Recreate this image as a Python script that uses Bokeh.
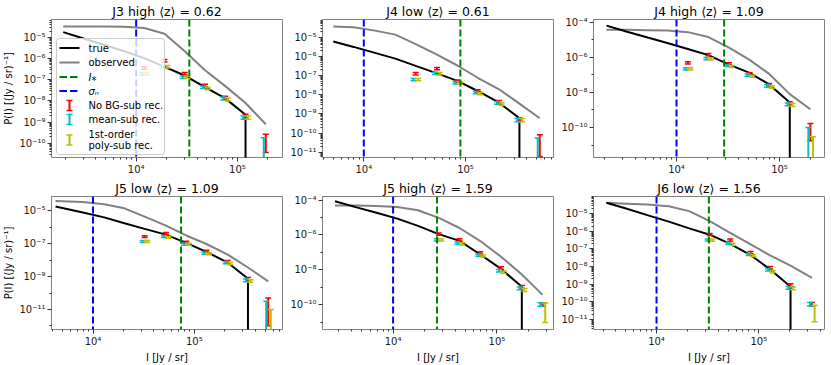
import math
from bokeh.plotting import figure
from bokeh.layouts import row, column
from bokeh.models import FixedTicker, CustomJSTickFormatter, Label, BoxAnnotation, Span
from bokeh.embed import file_html
from bokeh.resources import INLINE

# ---------------- data (log10 values) ----------------
titles = ["J3 high ⟨z⟩ = 0.62", "J4 low ⟨z⟩ = 0.61", "J4 high ⟨z⟩ = 1.09",
          "J5 low ⟨z⟩ = 1.09", "J5 high ⟨z⟩ = 1.59", "J6 low ⟨z⟩ = 1.56"]
i_star = [3.35e4, 8.9e4, 2.9e4, 7.4e4, 2.65e4, 3.25e4]   # I_* [Jy/sr]
sigma_n = 1.0e4                                          # sigma_n [Jy/sr]

# log10 of intensity bin centres
log_I_bins = [
    [3.28, 3.48, 3.68, 3.88, 4.08, 4.28, 4.48, 4.68, 4.88, 5.08, 5.28],
    [3.70, 3.90, 4.11, 4.31, 4.51, 4.72, 4.92, 5.12, 5.33, 5.53, 5.73],
    [3.32, 3.52, 3.72, 3.91, 4.11, 4.31, 4.51, 4.71, 4.90, 5.10, 5.30],
    [3.63, 3.90, 4.11, 4.31, 4.51, 4.72, 4.92, 5.12, 5.33, 5.53, 5.73],
    [3.44, 3.64, 3.84, 4.04, 4.24, 4.44, 4.64, 4.84, 5.04, 5.24, 5.44],
    [3.51, 3.71, 3.91, 4.12, 4.32, 4.52, 4.72, 4.92, 5.11, 5.31, 5.52],
]
# log10 P(I), true (drops to zero after the last value)
log_P_true = [
    [-4.75, -5.05, -5.35, -5.65, -5.98, -6.39, -6.80, -7.35, -7.88, -8.65],
    [-5.22, -5.50, -5.81, -6.11, -6.49, -6.88, -7.27, -7.80, -8.41, -9.22],
    [-4.20, -4.55, -4.88, -5.19, -5.53, -5.88, -6.42, -6.89, -7.55, -8.58],
    [-4.74, -5.10, -5.40, -5.76, -6.10, -6.45, -6.95, -7.50, -8.15, -9.13],
    [-4.06, -4.40, -4.72, -5.06, -5.48, -5.95, -6.34, -7.12, -7.95, -8.98],
    [-4.38, -4.72, -5.08, -5.45, -5.83, -6.19, -6.71, -7.35, -8.16, -9.15],
]
# log10 P(I), observed
log_P_obs = [
    [-4.48, -4.48, -4.49, -4.50, -4.56, -4.83, -5.65, -6.55, -7.30, -8.10, -9.10],
    [-4.43, -4.48, -4.65, -4.86, -5.35, -5.90, -6.47, -7.11, -7.71, -8.46, -9.22],
    [-4.43, -4.44, -4.46, -4.48, -4.57, -4.85, -5.45, -6.15, -6.95, -8.10, -8.96],
    [-4.41, -4.47, -4.60, -4.85, -5.35, -5.90, -6.50, -7.02, -7.66, -8.45, -9.29],
    [-4.30, -4.31, -4.34, -4.39, -4.58, -5.02, -5.60, -6.35, -7.25, -8.27, -9.44],
    [-4.38, -4.43, -4.48, -4.57, -4.85, -5.42, -6.09, -6.74, -7.37, -7.95, -8.65],
]
NaN = float("nan")
# reconstructions (on the last bins): log10 centre and half-width in dex
red_log_P = [
    [-6.44, -6.10, -6.72, -7.27, -7.85, -8.71, -10.00],
    [-6.90, -6.63, -7.28, -7.80, -8.37, -9.27, -10.65],
    [-6.32, -5.85, -6.38, -6.94, -7.57, -8.62, -10.26],
    [-6.57, -6.38, -6.91, -7.46, -8.09, -9.13, -11.15],
    [-5.95, -6.28, -7.03, -7.90, -8.98, -10.00],
    [-6.18, -6.50, -7.21, -8.07, -9.06, -10.14],
]
red_dex = [
    [0.06, 0.06, 0.06, 0.06, 0.07, 0.08, 0.43],
    [0.06, 0.06, 0.06, 0.06, 0.07, 0.08, 0.57],
    [0.06, 0.06, 0.06, 0.06, 0.07, 0.08, 0.49],
    [0.06, 0.06, 0.06, 0.06, 0.07, 0.08, 0.84],
    [0.06, 0.06, 0.06, 0.07, 0.08, 0.10],
    [0.06, 0.06, 0.06, 0.07, 0.08, 0.10],
]
cyan_log_P = [
    [-6.72, -6.39, -6.88, -7.35, -7.88, -8.79, -10.40],
    [-7.21, -6.88, -7.37, -7.89, -8.42, -9.32, -10.85],
    [-6.66, -6.08, -6.47, -7.02, -7.64, -8.68, -11.00],
    [-6.87, -6.57, -7.03, -7.58, -8.15, -9.23, -11.50],
    [-6.28, -6.47, -7.16, -8.05, -9.07, -10.00],
    [-6.49, -6.68, -7.32, -8.18, -9.21, -10.14],
]
cyan_dex = [
    [0.06, 0.06, 0.06, 0.06, 0.07, 0.08, 0.66],
    [0.06, 0.06, 0.06, 0.06, 0.07, 0.08, 0.60],
    [0.06, 0.06, 0.06, 0.06, 0.07, 0.08, 1.00],
    [0.06, 0.06, 0.06, 0.06, 0.07, 0.08, 1.00],
    [0.06, 0.06, 0.06, 0.07, 0.08, 0.10],
    [0.06, 0.06, 0.06, 0.07, 0.08, 0.10],
]
yel_log_P = [
    [-6.72, -6.39, -6.88, -7.41, -7.93, -8.79, NaN],
    [-7.21, -6.90, -7.39, -7.94, -8.49, -9.32, NaN],
    [-6.66, -6.09, -6.53, -7.08, -7.70, -8.72, -11.30],
    [-6.87, -6.61, -7.03, -7.62, -8.21, -9.27, -11.80],
    [-6.28, -6.51, -7.21, -8.14, -9.16, -10.47],
    [-6.50, -6.74, -7.39, -8.29, -9.24, -10.67],
]
yel_dex = [
    [0.06, 0.06, 0.06, 0.06, 0.07, 0.08, NaN],
    [0.06, 0.06, 0.06, 0.06, 0.07, 0.08, NaN],
    [0.06, 0.06, 0.06, 0.06, 0.07, 0.08, 0.77],
    [0.06, 0.06, 0.06, 0.06, 0.07, 0.08, 0.80],
    [0.06, 0.06, 0.06, 0.07, 0.08, 0.56],
    [0.06, 0.06, 0.06, 0.07, 0.08, 0.47],
]

# axis limits (log10) and labelled decades
x_lims = [(3.164, 5.445), (3.594, 5.865), (3.194, 5.437), (3.59, 5.871), (3.32, 5.545), (3.384, 5.642)]
y_lims = [(-10.67, -4.155), (-11.27, -4.07), (-11.71, -3.85), (-12.22, -4.13), (-11.43, -3.79), (-11.58, -4.02)]
y_major = [[-5, -6, -7, -8, -9, -10], [-5, -6, -7, -8, -9, -10, -11], [-4, -6, -8, -10],
           [-5, -7, -9, -11], [-4, -6, -8, -10], [-5, -6, -7, -8, -9, -10, -11]]
y_stride = [1, 1, 2, 2, 2, 1]

# ---------------- styling / layout ----------------
FONT = "DejaVu Sans"
C_RED, C_CYAN, C_YEL = "#ff0000", "#00bfbf", "#bfbf00"
OFF_CYAN, OFF_YEL = 0.955, 1.06
frame_w = [232, 231, 231]
b_left = [50, 35, 35]
b_right = [5, 5, 6]
frame_h = [139, 137]
b_top = [18, 19]
b_bottom = [20, 32]

sup_code = """
const sup = {"-": "\u207b", "0": "\u2070", "1": "\u00b9", "2": "\u00b2", "3": "\u00b3",
             "4": "\u2074", "5": "\u2075", "6": "\u2076", "7": "\u2077", "8": "\u2078", "9": "\u2079"};
const e = Math.round(Math.log10(tick));
let s = "";
for (const c of String(e)) { s += sup[c]; }
return "10" + s;
"""


def make_panel(i):
    c, r = i % 3, i // 3
    fw, fh = frame_w[c], frame_h[r]
    p = figure(width=b_left[c] + fw + b_right[c], height=b_top[r] + fh + b_bottom[r],
               x_axis_type="log", y_axis_type="log",
               x_range=(10 ** x_lims[i][0], 10 ** x_lims[i][1]),
               y_range=(10 ** y_lims[i][0], 10 ** y_lims[i][1]),
               output_backend="svg", toolbar_location=None,
               min_border_left=b_left[c], min_border_right=b_right[c],
               min_border_top=b_top[r], min_border_bottom=b_bottom[r])
    p.xgrid.visible = False
    p.ygrid.visible = False
    p.outline_line_color = "#808080"
    p.outline_line_width = 1
    p.background_fill_color = "white"
    p.border_fill_color = "white"

    p.title.text = titles[i]
    p.title.align = "center"
    p.title.text_font = FONT
    p.title.text_font_size = "12.5px"
    p.title.text_font_style = "normal"
    p.title.text_color = "black"
    p.title.standoff = 2

    xmin = [m * 10 ** k for k in range(2, 7) for m in range(2, 10)]
    p.xaxis.ticker = FixedTicker(ticks=[1e2, 1e3, 1e4, 1e5, 1e6], minor_ticks=xmin)
    majors = [10.0 ** e for e in y_major[i]]
    if y_stride[i] == 1:
        ymin = [m * 10.0 ** k for k in range(-14, -2) for m in range(2, 10)]
    else:
        ymin = [10.0 ** (e - 1) for e in y_major[i]]
    p.yaxis.ticker = FixedTicker(ticks=majors, minor_ticks=ymin)
    for ax in (p.xaxis[0], p.yaxis[0]):
        ax.formatter = CustomJSTickFormatter(code=sup_code)
        ax.axis_line_color = None
        ax.major_tick_out = 4
        ax.major_tick_in = 0
        ax.minor_tick_out = 2
        ax.minor_tick_in = 0
        ax.major_tick_line_color = "#333333"
        ax.minor_tick_line_color = "#333333"
        ax.major_label_text_font = FONT
        ax.major_label_text_font_size = "10px"
        ax.major_label_text_color = "#1a1a1a"
        ax.major_label_standoff = 2
        ax.axis_label_text_font = FONT
        ax.axis_label_text_font_size = "10px"
        ax.axis_label_text_font_style = "normal"
        ax.axis_label_text_color = "black"
        ax.axis_label_standoff = 2
    if c == 0:
        p.yaxis.axis_label = "P(I) [(Jy / sr)⁻¹]"
    if r == 1:
        p.xaxis.axis_label = "I [Jy / sr]"

    bins = log_I_bins[i]
    tr = log_P_true[i]
    x_true = [10 ** b for b in bins[:len(tr)]]
    y_true = [10 ** v for v in tr]
    x_obs = [10 ** b for b in bins[:len(log_P_obs[i])]]
    y_obs = [10 ** v for v in log_P_obs[i]]

    p.line(x_obs, y_obs, line_color="#808080", line_width=2)
    p.line(x_true, y_true, line_color="black", line_width=2)
    # true distribution drops to zero beyond its last bin
    p.segment(x0=[x_true[-1]], y0=[y_true[-1]], x1=[x_true[-1]], y1=[1e-30],
              line_color="black", line_width=2)

    p.add_layout(Span(location=i_star[i], dimension="height", line_color="#008000",
                      line_width=2, line_dash="7 3"))
    p.add_layout(Span(location=sigma_n, dimension="height", line_color="#0000ff",
                      line_width=2, line_dash="7 3"))

    for color, mids, dexs, fac in ((C_RED, red_log_P[i], red_dex[i], 1.0),
                                   (C_CYAN, cyan_log_P[i], cyan_dex[i], OFF_CYAN),
                                   (C_YEL, yel_log_P[i], yel_dex[i], OFF_YEL)):
        rb = bins[len(bins) - len(mids):]
        xs = [10 ** b * fac for b in rb]
        lo = [10 ** (m - d) for m, d in zip(mids, dexs)]
        hi = [10 ** (m + d) for m, d in zip(mids, dexs)]
        p.segment(x0=xs, y0=lo, x1=xs, y1=hi, line_color=color, line_width=2)
        p.scatter(xs + xs, lo + hi, marker="dash", size=6, line_color=color, line_width=1.5)
    return p


def sbox(p, l, r_, b, t, color, alpha=1.0, line=None, radius=0):
    kw = dict(left=l, right=r_, bottom=b, top=t, left_units="screen", right_units="screen",
              bottom_units="screen", top_units="screen", fill_color=color, fill_alpha=alpha,
              line_color=line if line else color, line_alpha=1.0 if line else 0.0,
              line_width=1)
    if radius:
        kw["border_radius"] = radius
    p.add_layout(BoxAnnotation(**kw))


def add_legend(p, fh):
    top = fh - 20
    sbox(p, 5, 113, 3, top, "white", alpha=0.8, line="#cccccc", radius=3)
    rows = [9.5, 24, 38.5, 52.5, 67, 81, 95.5]   # offsets below legend top
    ys = [top - d for d in rows]
    gx0, gx1, tx = 8, 28, 37

    def text(y, s, style="normal"):
        p.add_layout(Label(x=tx, y=y, x_units="screen", y_units="screen", text=s,
                           text_baseline="middle", text_font=FONT, text_font_size="10px",
                           text_font_style=style, text_color="black"))

    sbox(p, gx0, gx1, ys[0] - 1, ys[0] + 1, "black")
    text(ys[0], "true")
    sbox(p, gx0, gx1, ys[1] - 1, ys[1] + 1, "#808080")
    text(ys[1], "observed")
    for k, col in ((2, "#008000"), (3, "#0000ff")):
        sbox(p, gx0, gx0 + 7.5, ys[k] - 1, ys[k] + 1, col)
        sbox(p, gx0 + 10.5, gx0 + 18, ys[k] - 1, ys[k] + 1, col)
    text(ys[2], "I⁎", "italic")
    text(ys[3], "σₙ", "italic")
    ebar_rows = [(ys[4], C_RED), (ys[5], C_CYAN), (ys[6] - 6, C_YEL)]
    for y, col in ebar_rows:
        cx = (gx0 + gx1) / 2
        sbox(p, cx - 1, cx + 1, y - 5, y + 5, col)
        sbox(p, cx - 3, cx + 3, y + 4.25, y + 5.75, col)
        sbox(p, cx - 3, cx + 3, y - 5.75, y - 4.25, col)
    text(ys[4], "No BG-sub rec.")
    text(ys[5], "mean-sub rec.")
    text(ys[6], "1st-order")
    text(ys[6] - 11.5, "poly-sub rec.")


panels = [make_panel(i) for i in range(6)]
add_legend(panels[0], frame_h[0])

layout = column(row(*panels[:3]), row(*panels[3:]))
open("out.html", "w").write(file_html(layout, INLINE))
